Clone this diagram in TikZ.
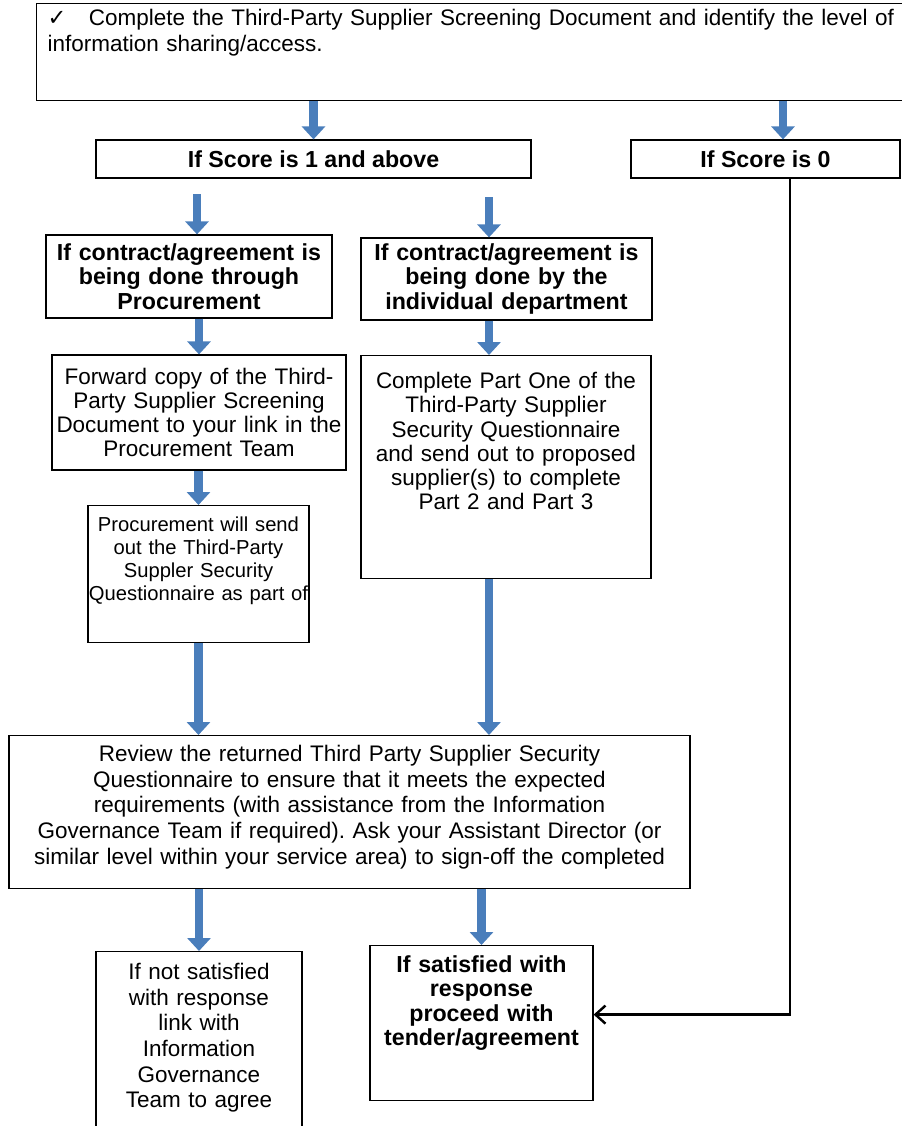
\documentclass[tikz,border=0pt]{standalone}
\usepackage{fontspec}
\setmainfont{Liberation Sans}
\newfontfamily\symfont{DejaVu Sans}
\usetikzlibrary{arrows.meta}
\frenchspacing
\definecolor{arrowblue}{RGB}{74,126,187}
\newcommand{\boxfont}{\fontsize{12.8pt}{13.8pt}\selectfont}
\newcommand{\loosefont}{\fontsize{12.8pt}{14.6pt}\selectfont}
\newcommand{\smallboxfont}{\fontsize{11.5pt}{13pt}\selectfont}
\newcommand{\headfont}{\fontsize{13.2pt}{13.8pt}\selectfont\bfseries}
\tikzset{
  box/.style={draw, line width=0.7pt, align=center, inner sep=0pt, font=\boxfont},
  boldbox/.style={box, font=\headfont},
  blockarrow/.style={draw=arrowblue, line width=0.17cm, -{Triangle[width=0.46cm,length=0.26cm]}}
}

\begin{document}
\begin{tikzpicture}[x=0.02cm,y=-0.02cm]
\useasboundingbox (0,0) rectangle (902,1126);
\clip (0,0) rectangle (902,1126);
\node[box, font=\loosefont, anchor=north west, align=left, inner xsep=0.22cm, text width=17cm, text height=0.44cm, text depth=1.5cm] (screen) at (36,3)
  {{\symfont ✓}\hspace{0.45cm}Complete the Third-Party Supplier Screening Document and identify the level of\\information sharing/access.};
\node[boldbox, minimum width=8.7cm, minimum height=0.76cm] (high) at (313.5,159) {If Score is 1 and above};
\node[boldbox, minimum width=5.38cm, minimum height=0.76cm] (zero) at (765.5,159) {If Score is 0};
\node[boldbox, text width=5.72cm, minimum height=1.66cm] (viaproc) at (189,276.5)
  {If contract/agreement is\\being done through\\Procurement};
\node[boldbox, text width=5.82cm, minimum height=1.64cm] (viadept) at (506.5,279)
  {If contract/agreement is\\being done by the\\individual department};
\node[box, text width=5.88cm, minimum height=2.3cm] (forward) at (199,412.5)
  {Forward copy of the Third-\\Party Supplier Screening\\Document to your link in the\\Procurement Team};
\node[box, anchor=north, text width=5.8cm, text height=0.66cm, text depth=3.8cm] (partone) at (506,355)
  {Complete Part One of the\\Third-Party Supplier\\Security Questionnaire\\and send out to proposed\\supplier(s) to complete\\Part 2 and Part 3};
\node[box, font=\smallboxfont, anchor=north, text width=4.42cm, text height=0.52cm, text depth=2.22cm] (procsend) at (198.5,505)
  {Procurement will send\\out the Third-Party\\Suppler Security\\Questionnaire as part of};
\node[box, font=\loosefont, anchor=north, text width=13.62cm, text height=0.52cm, text depth=2.54cm] (review) at (349.5,735)
  {Review the returned Third Party Supplier Security\\Questionnaire to ensure that it meets the expected\\requirements (with assistance from the Information\\Governance Team if required). Ask your Assistant Director (or\\similar level within your service area) to sign-off the completed};
\node[box, font=\loosefont, anchor=north, text width=4.12cm, text height=0.56cm, text depth=3.3cm] (notok) at (199,951)
  {If not satisfied\\with response\\link with\\Information\\Governance\\Team to agree};
\node[boldbox, anchor=north, text width=4.46cm, text height=0.54cm, text depth=2.56cm] (ok) at (481.5,945)
  {If satisfied with\\response\\proceed with\\tender/agreement};
\coordinate (zerotop) at ([xshift=0.35cm]zero.north);
\coordinate (proctop) at ([xshift=0.16cm]viaproc.north);
\coordinate (depttop) at ([xshift=-0.35cm]viadept.north);
\coordinate (partleft) at ([xshift=-0.34cm]partone.north);
\coordinate (zerodrop) at ([xshift=0.49cm]zero.south);
\coordinate (okin) at ([yshift=0.17cm]ok.east);
\draw[blockarrow] (high.north |- screen.south) -- (high.north);
\draw[blockarrow] (zerotop |- screen.south) -- (zerotop);
\draw[blockarrow] ([yshift=0.8cm]proctop) -- (proctop);
\draw[blockarrow] ([yshift=0.8cm]depttop) -- (depttop);
\draw[blockarrow] (forward.north |- viaproc.south) -- (forward.north);
\draw[blockarrow] (partleft |- viadept.south) -- (partleft);
\draw[blockarrow] (procsend.north |- forward.south) -- (procsend.north);
\draw[blockarrow] (procsend.south) -- (procsend.south |- review.north);
\draw[blockarrow] (partleft |- partone.south) -- (partleft |- review.north);
\draw[blockarrow] (notok.north |- review.south) -- (notok.north);
\draw[blockarrow] (ok.north |- review.south) -- (ok.north);
\draw[line width=1.4pt, -{Straight Barb[length=0.2cm,width=0.36cm]}] (zerodrop) |- (okin);
\end{tikzpicture}
\end{document}
